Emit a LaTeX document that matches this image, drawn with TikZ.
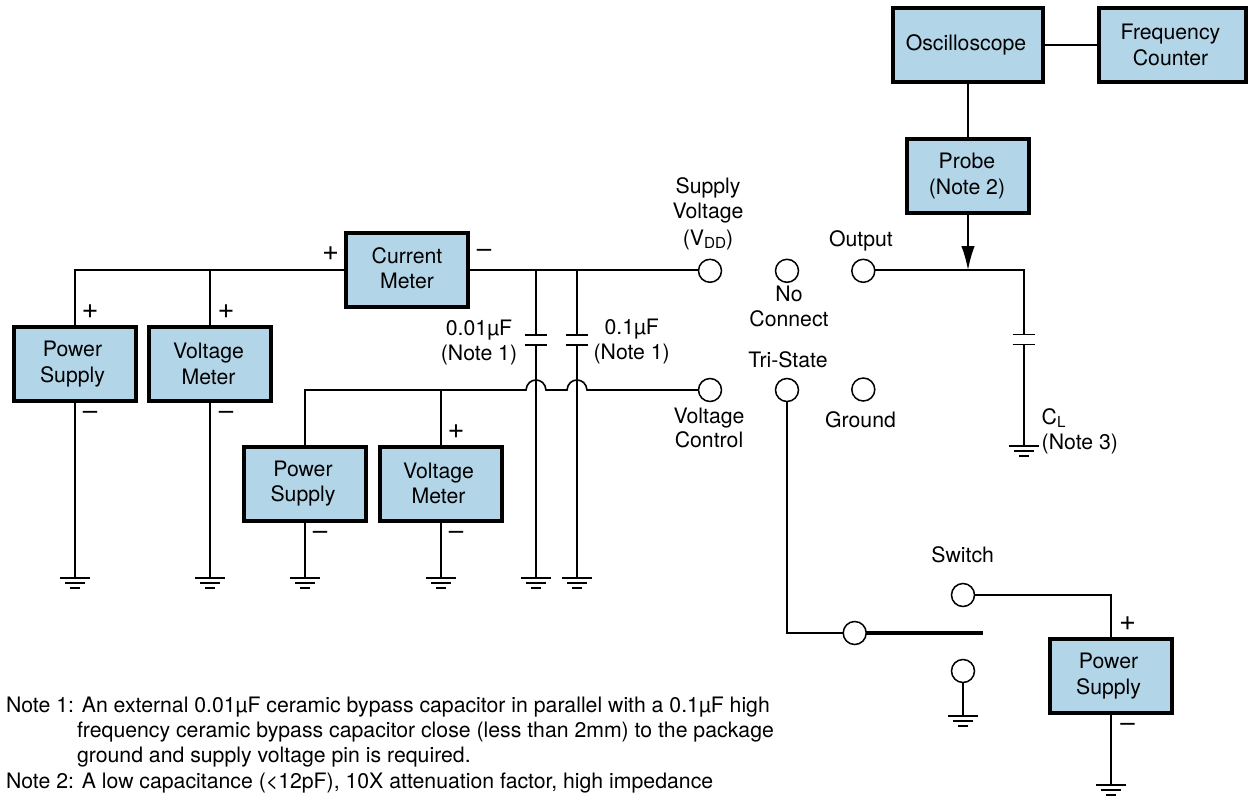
\documentclass[tikz,border=0pt]{standalone}
\usepackage{fontspec}
\setmainfont{TeX Gyre Heros}
\usetikzlibrary{arrows.meta}
\definecolor{boxblue}{HTML}{B3D5E8}
\newcommand{\txtfont}{\fontsize{21.25}{25.3}\selectfont}
\newcommand{\subtxt}[1]{\raisebox{-3.5pt}{\fontsize{15.2}{15.2}\selectfont #1}}
\newcommand{\sft}{\hspace*{4pt}}
\tikzset{
  x=1pt,y=-1pt,
  wire/.style={line width=1.6pt,black},
  plate/.style={line width=1.8pt,black},
  unit/.style={draw=black,line width=4pt,fill=boxblue,outer sep=0pt,inner sep=0pt,align=center,font=\txtfont},
  pad/.style={draw=black,line width=1.5pt,fill=white,circle,minimum size=23pt,inner sep=0pt,outer sep=0pt},
  lbl/.style={inner sep=0pt,outer sep=0pt,align=center,font=\txtfont,anchor=base},
  note/.style={inner sep=0pt,outer sep=0pt,anchor=base west,font=\txtfont},
  sign/.style={inner sep=0pt,outer sep=0pt,font=\fontsize{26}{26}\selectfont},
  plussign/.style={inner sep=0pt,outer sep=0pt,font=\fontsize{29}{29}\selectfont},
  gnd/.pic={
    \draw[line width=1.6pt] (-15,0) -- (15,0);
    \draw[line width=1.6pt] (-10,5) -- (10,5);
    \draw[line width=1.6pt] (-5,10) -- (5,10);
  },
  cappic/.pic={
    \draw[plate] (-11.3,0) -- (11.3,0);
    \draw[plate] (-11.3,10) -- (11.3,10);
  }
}
\begin{document}
\begin{tikzpicture}
\useasboundingbox (0,0) rectangle (1248,796);
% boxes
\node[unit,minimum width=121.5pt,minimum height=74pt] (ps1) at (75,364) {Power\hspace*{5pt}\\Supply\hspace*{5pt}};
\node[unit,minimum width=121.5pt,minimum height=74pt] (vm1) at (210,364) {Voltage\hspace*{3pt}\\Meter\hspace*{3pt}};
\node[unit,minimum width=121.5pt,minimum height=74pt,text depth=4pt] (cm) at (407,270) {Current\\Meter};
\node[unit,minimum width=121.5pt,minimum height=74pt] (ps2) at (305,483.5) {Power\sft\\Supply\sft};
\node[unit,minimum width=121.5pt,minimum height=74pt] (vm2) at (441,483.5) {Voltage\hspace*{5pt}\\Meter\hspace*{5pt}};
\node[unit,minimum width=150pt,minimum height=74pt] (osc) at (968,45) {Oscilloscope\sft};
\node[unit,minimum width=147pt,minimum height=74pt] (fc) at (1172.5,45) {Frequency\sft\\Counter\sft};
\node[unit,minimum width=121.5pt,minimum height=74pt] (probe) at (968,176) {Probe\hspace*{2pt}\\(Note 2)\hspace*{2pt}};
\node[unit,minimum width=121.5pt,minimum height=74pt] (ps3) at (1111,676) {Power\hspace*{5pt}\\Supply\hspace*{5pt}};
% pads
\node[pad] (vdd) at (710,270.8) {};
\node[pad] (nc) at (787,270.8) {};
\node[pad] (out) at (863.3,270.8) {};
\node[pad] (vc) at (710,390) {};
\node[pad] (ts) at (787,390) {};
\node[pad] (grd) at (863.3,389.5) {};
\node[pad] (sw) at (963,595) {};
\node[pad] (com) at (854.7,633) {};
\node[pad] (lo) at (963,671) {};
% coordinates
\coordinate (j1) at (536,270);
\coordinate (j2) at (577,270);
\coordinate (j3) at (968,270);
\coordinate (j4) at (1024,270);
\coordinate (c1) at (536,335);
\coordinate (c2) at (577,335);
\coordinate (c3) at (1024,334.5);
\coordinate (c1b) at (536,345);
\coordinate (c2b) at (577,345);
\coordinate (c3b) at (1024,344.5);
\coordinate (g1) at (75,578);
\coordinate (g2) at (210,578);
\coordinate (g3) at (305,578);
\coordinate (g4) at (441,578);
\coordinate (g5) at (536,578);
\coordinate (g6) at (577,578);
\coordinate (g7) at (1024,446);
\coordinate (g8) at (963,716);
\coordinate (g9) at (1111,785);
\coordinate (swe) at (983,633);
\coordinate (b1r) at (546,390);
\coordinate (b1l) at (526,390);
\coordinate (b2r) at (587,390);
\coordinate (b2l) at (567,390);
% grounds and capacitor plates
\foreach \g in {g1,g2,g3,g4,g5,g6,g7,g8,g9} \pic at (\g) {gnd};
\foreach \c in {c1,c2,c3} \pic at (\c) {cappic};
% wires
\draw[wire] (cm.west) -- (ps1.north |- cm.west) -- (ps1.north);
\draw[wire] (vm1.north |- cm.west) -- (vm1.north);
\draw[wire] (ps1.south) -- (g1);
\draw[wire] (vm1.south) -- (g2);
\draw[wire] (ps2.south) -- (g3);
\draw[wire] (vm2.south) -- (g4);
\draw[wire] (cm.east) -- (vdd.west |- cm.east);
\draw[wire] (j1) -- (c1);
\draw[wire] (j2) -- (c2);
\draw[wire] (c1b) -- (g5);
\draw[wire] (c2b) -- (g6);
\draw[wire] (ps2.north) -- (ps2.north |- vc.west) -- (b1l)
  .. controls (527,376.7) and (545,376.7) .. (b1r) -- (b2l)
  .. controls (568,376.7) and (586,376.7) .. (b2r) -- (vc.west);
\draw[wire] (vm2.north) -- (vm2.north |- vc.west);
\draw[wire] (osc.east) -- (fc.west);
\draw[wire] (osc.south) -- (probe.north);
\draw[wire,-{Latex[length=24pt,width=13.5pt]}] (probe.south) -- (j3);
\draw[wire] (out.east |- j4) -- (j4) -- (c3);
\draw[wire] (c3b) -- (g7);
\draw[wire] (ts.south) -- (ts.south |- com.west) -- (com.west);
\draw[line width=4pt] (com.east) -- (swe);
\draw[wire] (sw.east) -- (ps3.north |- sw.east) -- (ps3.north);
\draw[wire] (lo.south) -- (g8);
\draw[wire] (ps3.south) -- (g9);
% signs
\node[plussign] (s1) at (90,312) {+};
\node[plussign] (s2) at (226,312) {+};
\node[sign] (s3) at (90,415) {–};
\node[sign] (s4) at (226,415) {–};
\node[plussign] (s5) at (330.5,254) {+};
\node[sign] (s6) at (484,253) {–};
\node[sign] (s7) at (320,535) {–};
\node[plussign] (s8) at (456,432) {+};
\node[sign] (s9) at (456,535) {–};
\node[plussign] (s10) at (1127.7,624) {+};
\node[sign] (s11) at (1127.7,727) {–};
% labels
\node[lbl] (l1) at (708,193) {Supply};
\node[lbl] (l2) at (708,218.5) {Voltage};
\node[lbl] (l3) at (708,245) {(V\subtxt{DD})};
\node[lbl] (l4) at (861,246) {Output};
\node[lbl] (l5) at (789,301.7) {No};
\node[lbl] (l6) at (789,326.7) {Connect};
\node[lbl] (l7) at (788,367.7) {Tri-State};
\node[lbl] (l8) at (860.5,427) {Ground};
\node[lbl] (l9) at (709,423) {Voltage};
\node[lbl] (l10) at (709,447.7) {Control};
\node[lbl] (l11) at (479,335) {0.01µF};
\node[lbl] (l12) at (479,360) {(Note 1)};
\node[lbl] (l13) at (631.7,334) {0.1µF};
\node[lbl] (l14) at (631.7,359) {(Note 1)};
\node[lbl] (l15) at (962.7,562.7) {Switch};
\node[lbl,anchor=base west] (l16) at (1041.7,424) {C\subtxt{L}};
\node[lbl,anchor=base west] (l17) at (1041.7,449) {(Note 3)};
% notes
\node[note] (n1) at (6,712) {Note 1: An external 0.01µF ceramic bypass capacitor in parallel with a 0.1µF high};
\node[note] (n2) at (77,737.4) {frequency ceramic bypass capacitor close (less than 2mm) to the package};
\node[note] (n3) at (77,762.8) {ground and supply voltage pin is required.};
\node[note] (n4) at (6,788) {Note 2: A low capacitance (<12pF), 10X attenuation factor, high impedance};
\end{tikzpicture}
\end{document}
